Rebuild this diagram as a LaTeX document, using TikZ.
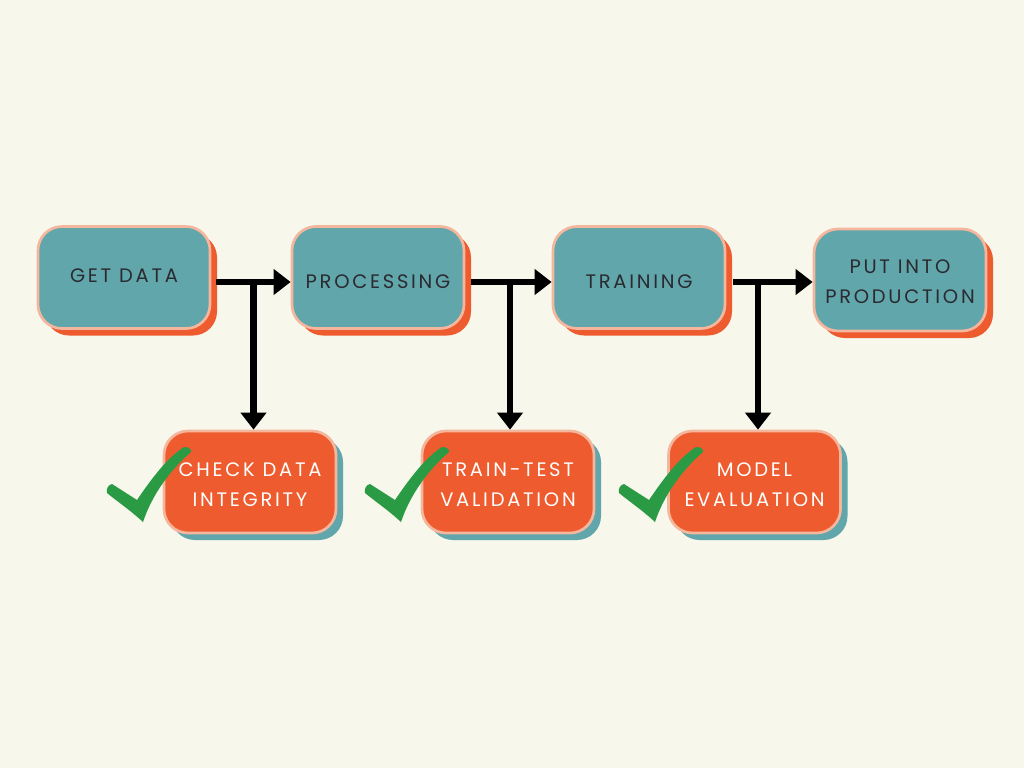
\documentclass[tikz,border=0pt]{standalone}
\usepackage{fontspec}
\setmainfont{Poppins}[LetterSpace=14]
\usetikzlibrary{shadows,arrows.meta}
\definecolor{bg}{HTML}{F7F7EB}
\definecolor{tealc}{HTML}{60A6AB}
\definecolor{orangec}{HTML}{EE5B2E}
\definecolor{peach}{HTML}{F5B69E}
\definecolor{greenc}{HTML}{2B9A44}
\definecolor{darktxt}{HTML}{2B2A30}
\newcommand{\txtdown}[1]{\rule{0pt}{#1}}
\tikzset{
  box/.style={rounded corners=24pt, minimum width=172pt, minimum height=102pt,
    draw=peach, line width=2.7pt, align=center, inner sep=0pt,
    font=\fontsize{19.5}{30}\selectfont},
  topbox/.style={box, fill=tealc, text=darktxt,
    general shadow={shadow xshift=7pt, shadow yshift=-7pt, fill=orangec}},
  botbox/.style={box, fill=orangec, text=white,
    general shadow={shadow xshift=7pt, shadow yshift=-7pt, fill=tealc}},
  arr/.style={line width=6.5pt, -{Triangle[width=25pt,length=17pt]}},
  tick/.style={fill=greenc}
}
\begin{document}
\begin{tikzpicture}[x=1pt,y=-1pt]
\fill[bg] (0,0) rectangle (1024,768);
\useasboundingbox (0,0) rectangle (1024,768);
% top boxes
\node[topbox] (gd) at (124,277.5) {GET DATA\rule[-4pt]{0pt}{4pt}};
\node[topbox] (proc) at (378,277.5) {\txtdown{21.5pt}PROCESSING};
\node[topbox] (train) at (639,277.5) {\txtdown{21.5pt}TRAINING};
\node[topbox] (prod) at (900,280) {\txtdown{16.5pt}PUT INTO\\PRODUCTION};
% bottom boxes
\node[botbox] (check) at (250,482) {\txtdown{19pt}CHECK DATA\\INTEGRITY};
\node[botbox] (tt) at (508,482) {\txtdown{19pt}TRAIN-TEST\\VALIDATION};
\node[botbox] (eval) at (754.5,482) {\txtdown{19pt}MODEL\\EVALUATION};
% connectors
\coordinate (s1) at (216,282);
\coordinate (j1) at (253.5,282);
\coordinate (s2) at (471,282);
\coordinate (j2) at (510,282);
\coordinate (s3) at (733,282);
\coordinate (j3) at (758,282);
\draw[arr] (s1) -- (s1 -| proc.west);
\draw[arr] (j1) -- (j1 |- check.north);
\draw[arr] (s2) -- (s2 -| train.west);
\draw[arr] (j2) -- (j2 |- tt.north);
\draw[arr] (s3) -- (s3 -| prod.west);
\draw[arr] (j3) -- (j3 |- eval.north);
% check marks
\foreach \dx in {0,258,512}{
\begin{scope}[xshift=\dx pt]
\fill[tick] (107,493) .. controls (106,489) and (108,485) .. (112,484)
  -- (137,500) .. controls (152,478) and (167,458) .. (184,447)
  .. controls (188,447) and (192,449) .. (191,452)
  .. controls (170,470) and (152,495) .. (143,522)
  .. controls (130,510) and (118,502) .. (107,493) -- cycle;
\end{scope}}
\end{tikzpicture}
\end{document}
